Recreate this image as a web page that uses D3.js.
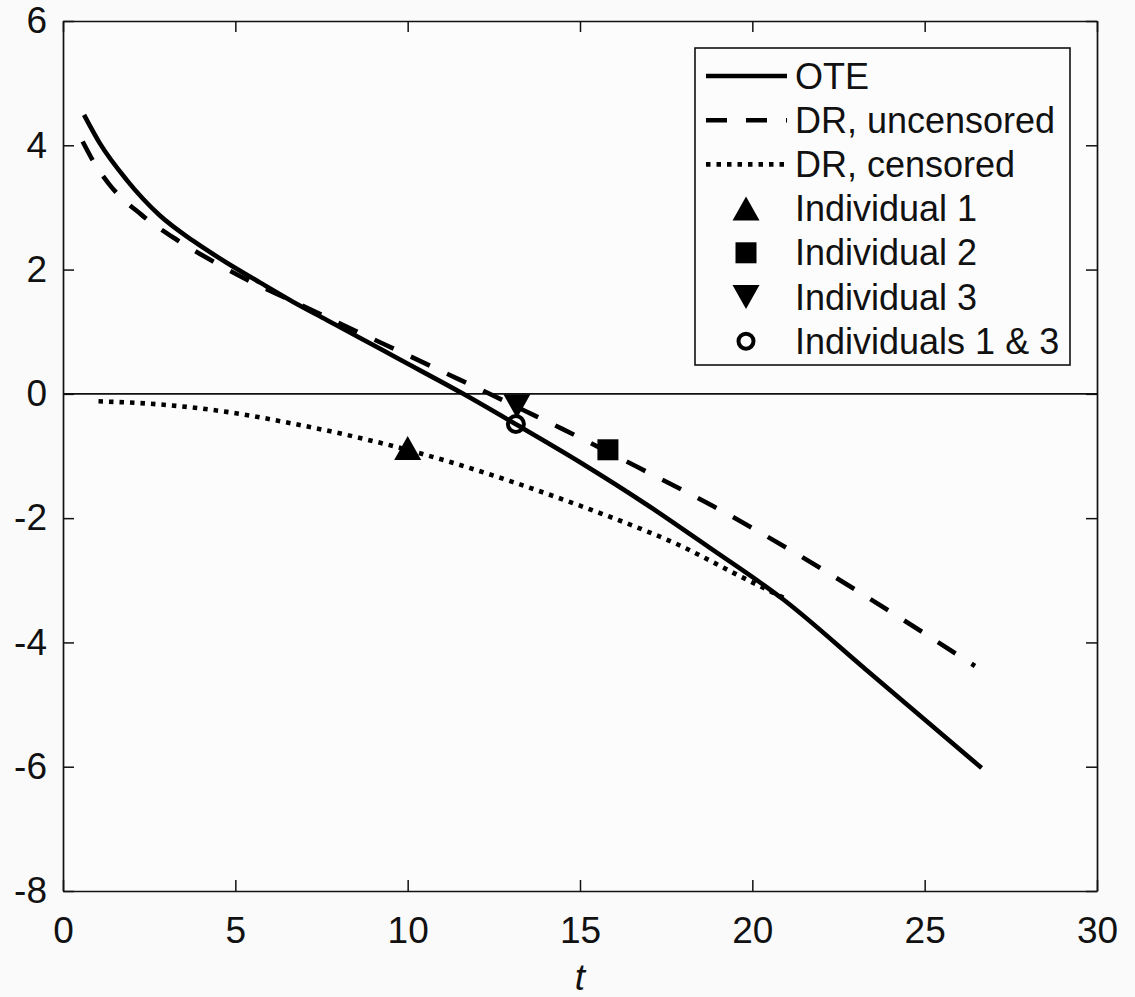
<!DOCTYPE html>
<html>
<head>
<meta charset="utf-8">
<script src="https://cdn.jsdelivr.net/npm/d3@7"></script>
<style>
  body { margin: 0; background: #fafafa; }
  text { font-family: "Liberation Sans", Arial, Helvetica, sans-serif; fill: #111; }
</style>
</head>
<body>
<svg width="1135" height="997"></svg>
<script>
// OTE curve
var oteT = [0.61, 1.07, 1.85, 2.81, 3.78, 4.75, 5.72, 6.68, 7.65, 8.62, 9.68, 11.61, 13.14, 15.0, 16.93, 18.77, 20.9, 23.3, 26.65];
var oteV = [4.49, 4.03, 3.44, 2.87, 2.46, 2.11, 1.79, 1.48, 1.19, 0.90, 0.58, 0.0, -0.49, -1.10, -1.78, -2.48, -3.31, -4.44, -6.02];

// DR, uncensored
var druT = [0.57, 0.83, 1.36, 2.28, 3.30, 4.36, 5.47, 6.59, 8.81, 9.97, 11.08, 12.19, 13.35, 14.47, 16.64, 18.87, 21.0, 23.1, 26.46];
var druV = [4.06, 3.79, 3.36, 2.88, 2.48, 2.13, 1.80, 1.51, 0.93, 0.63, 0.34, 0.05, -0.26, -0.56, -1.17, -1.81, -2.48, -3.19, -4.38];

// DR, censored
var drcT = [1.03, 2.81, 4.75, 6.68, 8.62, 9.58, 11.13, 13.06, 15.0, 16.93, 17.9, 18.48, 19.45, 20.9];
var drcV = [-0.12, -0.17, -0.29, -0.48, -0.71, -0.84, -1.08, -1.42, -1.80, -2.21, -2.44, -2.60, -2.88, -3.28];

// individual points
var ind1 = [10.0, -0.87];
var ind2 = [15.81, -0.90];
var ind3 = [13.17, -0.20];
var ind13 = [13.14, -0.485];

var xTicks = [0, 5, 10, 15, 20, 25, 30];
var yTicks = [-8, -6, -4, -2, 0, 2, 4, 6];
var legendLabels = ["OTE", "DR, uncensored", "DR, censored", "Individual 1", "Individual 2", "Individual 3", "Individuals 1 & 3"];

var svg = d3.select("svg"),
  ink = "#111";

var x = d3.scaleLinear().domain([0, 30]).range([63, 1097]);
var y = d3.scaleLinear().domain([-8, 6]).range([891, 21]);

function pts(ts, vs) { return ts.map(function(t, i) { return [t, vs[i]]; }); }

var line = d3.line()
  .x(function(d) { return x(d[0]); })
  .y(function(d) { return y(d[1]); })
  .curve(d3.curveMonotoneX);

// plot area
svg.append("rect")
  .attr("x", x(0)).attr("y", y(6))
  .attr("width", x(30) - x(0)).attr("height", y(-8) - y(6))
  .attr("fill", "#fcfcfc");

// axes
var plain = function(d) { return String(d); };
function styleAxis(g) {
  g.select(".domain").attr("stroke", ink).attr("stroke-width", 1.7);
  g.selectAll(".tick line").attr("stroke", ink).attr("stroke-width", 1.5);
  g.selectAll("text").attr("font-size", 37).attr("font-family", "Liberation Sans, Arial, sans-serif").attr("fill", ink);
}

svg.append("g")
  .attr("transform", "translate(0," + y(-8) + ")")
  .call(d3.axisBottom(x).tickValues(xTicks).tickFormat(plain).tickSize(-11).tickSizeOuter(0).tickPadding(26))
  .call(styleAxis);

svg.append("g")
  .attr("transform", "translate(0," + y(6) + ")")
  .call(d3.axisTop(x).tickValues(xTicks).tickSize(-11).tickSizeOuter(0).tickFormat(""))
  .call(styleAxis);

svg.append("g")
  .attr("transform", "translate(" + x(0) + ",0)")
  .call(d3.axisLeft(y).tickValues(yTicks).tickFormat(plain).tickSize(-11).tickSizeOuter(0).tickPadding(16))
  .call(styleAxis);

svg.append("g")
  .attr("transform", "translate(" + x(30) + ",0)")
  .call(d3.axisRight(y).tickValues(yTicks).tickSize(-11).tickSizeOuter(0).tickFormat(""))
  .call(styleAxis);

svg.append("text")
  .attr("x", (x(0) + x(30)) / 2)
  .attr("y", 990)
  .attr("text-anchor", "middle")
  .attr("font-size", 37)
  .attr("font-style", "italic")
  .text("t");

// zero line
svg.append("line")
  .attr("x1", x(0)).attr("x2", x(30))
  .attr("y1", y(0)).attr("y2", y(0))
  .attr("stroke", ink).attr("stroke-width", 1.6);

// curves
var dashes = [null, "21,19", "4.5,6"];
var lw = 4.6;

svg.append("path").datum(pts(oteT, oteV))
  .attr("d", line).attr("fill", "none").attr("stroke", "#000").attr("stroke-width", lw);
svg.append("path").datum(pts(druT, druV))
  .attr("d", line).attr("fill", "none").attr("stroke", "#000").attr("stroke-width", lw)
  .attr("stroke-dasharray", dashes[1]);
svg.append("path").datum(pts(drcT, drcV))
  .attr("d", line).attr("fill", "none").attr("stroke", "#000").attr("stroke-width", lw)
  .attr("stroke-dasharray", dashes[2]);

// markers
var tw = 27, th = 24, sq = 21;
function triUp(cx, cy) {
  return "M" + cx + "," + (cy - th / 2) + "L" + (cx + tw / 2) + "," + (cy + th / 2) + "L" + (cx - tw / 2) + "," + (cy + th / 2) + "Z";
}
function triDown(cx, cy) {
  return "M" + cx + "," + (cy + th / 2) + "L" + (cx + tw / 2) + "," + (cy - th / 2) + "L" + (cx - tw / 2) + "," + (cy - th / 2) + "Z";
}

svg.append("path").attr("d", triUp(x(ind1[0]), y(ind1[1]))).attr("fill", "#000");
svg.append("rect")
  .attr("x", x(ind2[0]) - sq / 2).attr("y", y(ind2[1]) - sq / 2)
  .attr("width", sq).attr("height", sq).attr("fill", "#000");
svg.append("path").attr("d", triDown(x(ind3[0]), y(ind3[1]))).attr("fill", "#000");
svg.append("circle")
  .attr("cx", x(ind13[0])).attr("cy", y(ind13[1])).attr("r", 8)
  .attr("fill", "none").attr("stroke", "#000").attr("stroke-width", 4);

// legend
var lg = svg.append("g");
lg.append("rect")
  .attr("x", 695).attr("y", 48).attr("width", 375).attr("height", 317)
  .attr("fill", "#fcfcfc").attr("stroke", ink).attr("stroke-width", 1.6);

var rowY = function(i) { return 76 + i * 44.2; };
var mx = 746;

legendLabels.forEach(function(lab, i) {
  var yy = rowY(i);
  if (i < 3) {
    lg.append("line")
      .attr("x1", 706).attr("x2", 787).attr("y1", yy).attr("y2", yy)
      .attr("stroke", "#000").attr("stroke-width", lw)
      .attr("stroke-dasharray", dashes[i]);
  } else if (i === 3) {
    lg.append("path").attr("d", triUp(mx, yy)).attr("fill", "#000");
  } else if (i === 4) {
    lg.append("rect").attr("x", mx - sq / 2).attr("y", yy - sq / 2)
      .attr("width", sq).attr("height", sq).attr("fill", "#000");
  } else if (i === 5) {
    lg.append("path").attr("d", triDown(mx, yy)).attr("fill", "#000");
  } else {
    lg.append("circle").attr("cx", mx).attr("cy", yy).attr("r", 7.5)
      .attr("fill", "none").attr("stroke", "#000").attr("stroke-width", 4);
  }
  lg.append("text")
    .attr("x", 795).attr("y", yy).attr("dy", "0.35em")
    .attr("font-size", 36)
    .text(lab);
});
</script>
</body>
</html>
